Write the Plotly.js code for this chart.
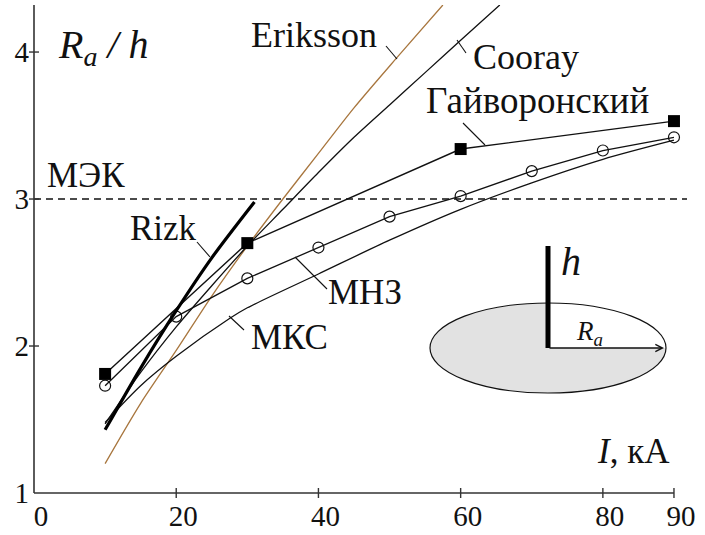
<!DOCTYPE html>
<html>
<head>
<meta charset="utf-8">
<script src="https://cdn.plot.ly/plotly-3.0.1.min.js"></script>
<style>html,body{margin:0;padding:0;background:#fff;}#chart{width:705px;height:535px;}</style>
</head>
<body>
<div id="chart"></div>
<script>
// ---------- data ----------
const xTickVals = [0, 20, 40, 60, 80, 90];
const yTickVals = [1, 2, 3, 4];
const iecLevel = 3;

const erikssonI = [10, 15, 20, 25, 30, 35, 40, 45, 51, 57.5];
const erikssonR = [1.20, 1.61, 1.97, 2.34, 2.68, 3.00, 3.31, 3.62, 3.96, 4.32];

const coorayI = [10, 15, 20, 25, 30, 35, 40, 45, 50, 55, 60, 65.5];
const coorayR = [1.47, 1.82, 2.13, 2.41, 2.68, 2.93, 3.18, 3.42, 3.64, 3.86, 4.08, 4.32];

const rizkI = [10, 15, 20, 25, 31];
const rizkR = [1.43, 1.85, 2.24, 2.60, 2.98];

const mksI = [10, 15, 20, 27.6, 30, 40, 50, 60, 70, 80, 90];
const mksR = [1.48, 1.73, 1.93, 2.19, 2.26, 2.49, 2.72, 2.93, 3.11, 3.27, 3.40];

const gaivI = [10, 30, 60, 90];
const gaivR = [1.81, 2.70, 3.34, 3.53];

const mnzI = [10, 20, 30, 40, 50, 60, 70, 80, 90];
const mnzR = [1.73, 2.20, 2.46, 2.67, 2.88, 3.02, 3.19, 3.33, 3.42];

// ---------- layout helpers ----------
const W = 705, H = 535;
const M = {l: 34, r: 5, t: 5, b: 42};
const PW = W - M.l - M.r, PH = H - M.t - M.b;
const XMAX = 93.66, YMIN = 1, YMAX = 4.32;
const fx = p => (p - M.l) / PW;           // pixel x -> paper
const fy = p => (H - M.b - p) / PH;       // pixel y -> paper
const FONT = 'Liberation Serif, Times New Roman, serif';
const INK = '#111';

const lineTrace = (x, y, opts) => Object.assign({
  x: x, y: y, type: 'scatter', mode: 'lines',
  line: {color: INK, width: 1.3}, hoverinfo: 'skip', cliponaxis: false
}, opts);

const traces = [
  lineTrace(erikssonI, erikssonR, {line: {color: '#a8763e', width: 1.3, shape: 'spline', smoothing: 0.8}}),
  lineTrace(coorayI, coorayR, {line: {color: INK, width: 1.3, shape: 'spline', smoothing: 0.8}}),
  lineTrace(mksI, mksR, {line: {color: INK, width: 1.3, shape: 'spline', smoothing: 0.8}}),
  lineTrace(mnzI, mnzR, {mode: 'lines+markers', line: {color: INK, width: 1.3},
    marker: {symbol: 'circle-open', size: 11, color: INK, line: {width: 1.2, color: INK}}}),
  lineTrace(gaivI, gaivR, {mode: 'lines+markers', line: {color: INK, width: 1.4},
    marker: {symbol: 'square', size: 12, color: '#000'}}),
  lineTrace(rizkI, rizkR, {line: {color: '#000', width: 3.2, shape: 'spline', smoothing: 0.8}})
];

const shapes = [];
shapes.push({type: 'line', xref: 'x', yref: 'y', x0: 0, x1: fx(687) * XMAX, y0: iecLevel, y1: iecLevel,
  line: {color: INK, width: 1.3, dash: '7px,5px'}});
shapes.push({type: 'line', xref: 'paper', yref: 'paper', x0: 0, x1: 0, y0: 0, y1: 1, line: {color: '#333', width: 1.6}});
shapes.push({type: 'line', xref: 'x', yref: 'paper', x0: 0, x1: 90, y0: 0, y1: 0, line: {color: '#333', width: 1.6}});
xTickVals.forEach(v => { if (v > 0) shapes.push({type: 'line', xref: 'x', yref: 'paper', x0: v, x1: v,
  y0: -5 / PH, y1: 5 / PH, line: {color: '#333', width: 1.4}}); });
yTickVals.forEach(v => { if (v > YMIN) shapes.push({type: 'line', xref: 'paper', yref: 'y', x0: -5 / PW, x1: 5 / PW,
  y0: v, y1: v, line: {color: '#333', width: 1.4}}); });

const ex0 = 430, ex1 = 666, ey0 = 303, ey1 = 393;
const ecx = 548, ecy = 348;
shapes.push({type: 'circle', xref: 'paper', yref: 'paper', x0: fx(ex0), x1: fx(ex1), y0: fy(ey1), y1: fy(ey0),
  fillcolor: '#e2e2e2', line: {width: 0}});
(function () {
  const k = 0.5523;
  const rx = ex1 - ecx, ry = ecy - ey0;
  const P = (x, y) => fx(x).toFixed(5) + ',' + fy(y).toFixed(5);
  const path = 'M' + P(ecx, ecy) + ' L' + P(ecx, ey0) +
    ' C' + P(ecx + k * rx, ey0) + ' ' + P(ex1, ecy - k * ry) + ' ' + P(ex1, ecy) + ' Z';
  shapes.push({type: 'path', xref: 'paper', yref: 'paper', path: path, fillcolor: '#ffffff', line: {width: 0}});
})();
shapes.push({type: 'circle', xref: 'paper', yref: 'paper', x0: fx(ex0), x1: fx(ex1), y0: fy(ey1), y1: fy(ey0),
  fillcolor: 'rgba(0,0,0,0)', line: {color: INK, width: 1.2}});
shapes.push({type: 'line', xref: 'paper', yref: 'paper', x0: fx(ecx), x1: fx(ecx), y0: fy(ecy), y1: fy(246),
  line: {color: '#000', width: 5}});

const leaders = [
  [386, 46, 397, 59],     // Eriksson
  [457, 40, 466, 53],     // Cooray
  [463, 123, 485, 145],   // Гайворонский
  [197, 242, 210, 257],   // Rizk
  [295, 257, 327, 289],   // МНЗ
  [229, 316, 244, 330]    // МКС
];
leaders.forEach(s => shapes.push({type: 'line', xref: 'paper', yref: 'paper',
  x0: fx(s[0]), y0: fy(s[1]), x1: fx(s[2]), y1: fy(s[3]), line: {color: INK, width: 1.1}}));

const ann = (text, x, y, size) => ({
  text: text, xref: 'paper', yref: 'paper', x: fx(x), y: fy(y), showarrow: false,
  xanchor: 'center', yanchor: 'middle', font: {family: FONT, size: size, color: INK}
});

const annotations = [
  ann('<i>R<sub>a</sub> / h</i>', 103, 47, 40),
  ann('МЭК', 86, 175, 35),
  ann('Rizk', 163, 229, 35),
  ann('Eriksson', 314, 35, 36),
  ann('Cooray', 526, 57, 36),
  ann('Гайворонский', 537, 100, 37),
  ann('МНЗ', 365, 292, 35),
  ann('МКС', 289, 337, 35),
  ann('<i>I</i>, кА', 633, 451, 35),
  ann('<i>h</i>', 571, 261, 40),
  ann('<i>R<sub>a</sub></i>', 589, 333, 27),
  {xref: 'paper', yref: 'paper', x: fx(664), y: fy(ecy), ax: -(664 - ecx), ay: 0, axref: 'pixel', ayref: 'pixel',
   showarrow: true, arrowhead: 5, arrowsize: 1, arrowwidth: 1.4, arrowcolor: INK, text: ''}
];

const layout = {
  width: W, height: H,
  margin: M,
  paper_bgcolor: '#fff', plot_bgcolor: '#fff',
  showlegend: false, hovermode: false,
  font: {family: FONT},
  xaxis: {range: [0, XMAX], showgrid: false, zeroline: false, showline: false, ticks: '',
    tickvals: xTickVals, ticktext: xTickVals.map(String), ticklabelshift: 7, ticklabelstandoff: 3,
    tickfont: {family: FONT, size: 29, color: INK}, fixedrange: true},
  yaxis: {range: [YMIN, YMAX], showgrid: false, zeroline: false, showline: false, ticks: '',
    tickvals: yTickVals, ticktext: yTickVals.map(String), ticklabelstandoff: 4,
    tickfont: {family: FONT, size: 29, color: INK}, fixedrange: true},
  shapes: shapes,
  annotations: annotations
};

Plotly.newPlot('chart', traces, layout, {staticPlot: true, displayModeBar: false});
</script>
</body>
</html>
